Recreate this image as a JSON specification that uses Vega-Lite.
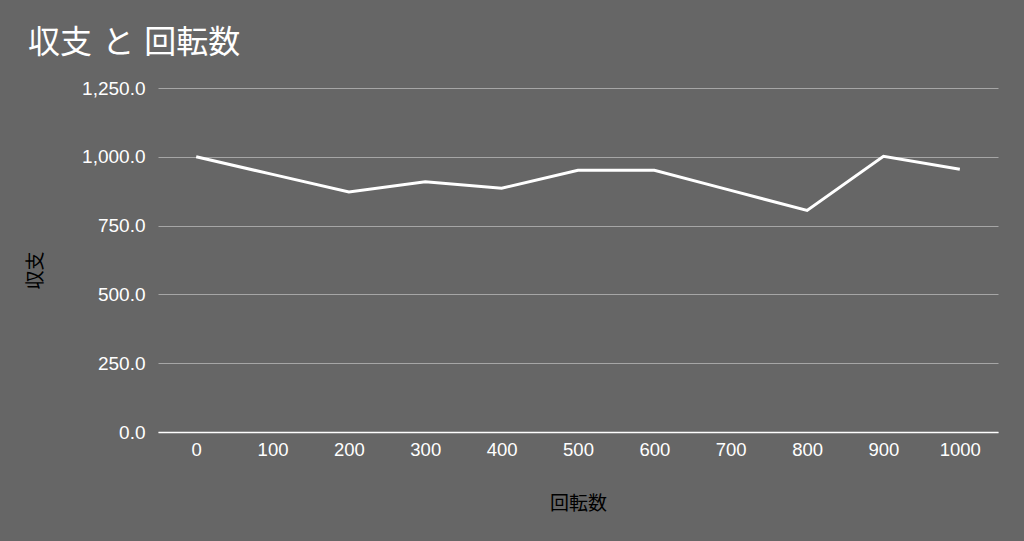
{
  "$schema": "https://vega.github.io/schema/vega-lite/v6.json",
  "autosize": "none",
  "width": 840,
  "height": 344,
  "padding": {"left": 158, "top": 88, "right": 26, "bottom": 109},
  "background": "#666666",
  "title": {
    "text": "収支 と 回転数",
    "anchor": "start",
    "frame": "group",
    "dx": -130,
    "offset": 19,
    "font": "DejaVu Sans, Noto Sans CJK JP",
    "fontSize": 32,
    "fontWeight": "normal",
    "color": "#ffffff"
  },
  "config": {
    "view": {"stroke": null},
    "font": "Liberation Sans"
  },
  "data": {
    "values": [
      {"回転数": 0, "収支": 1000},
      {"回転数": 100, "収支": 936},
      {"回転数": 200, "収支": 872},
      {"回転数": 300, "収支": 909},
      {"回転数": 400, "収支": 886},
      {"回転数": 500, "収支": 951},
      {"回転数": 600, "収支": 951},
      {"回転数": 700, "収支": 878},
      {"回転数": 800, "収支": 805},
      {"回転数": 900, "収支": 1002},
      {"回転数": 1000, "収支": 955}
    ]
  },
  "mark": {"type": "line", "color": "#ffffff", "strokeWidth": 3},
  "encoding": {
    "x": {
      "field": "回転数",
      "type": "ordinal",
      "scale": {"type": "point", "padding": 0.5},
      "axis": {
        "title": "回転数",
        "titleFont": "Noto Sans CJK JP",
        "titleFontSize": 19,
        "titleFontWeight": "normal",
        "titleColor": "#000000",
        "titlePadding": 36,
        "labelAngle": 0,
        "labelColor": "#ffffff",
        "labelFontSize": 18.5,
        "labelPadding": 8,
        "ticks": false,
        "domainColor": "#ffffff",
        "domainWidth": 1.5,
        "grid": false
      }
    },
    "y": {
      "field": "収支",
      "type": "quantitative",
      "scale": {"domain": [0, 1250]},
      "axis": {
        "title": "収支",
        "titleFont": "Noto Sans CJK JP",
        "titleFontSize": 19,
        "titleFontWeight": "normal",
        "titleColor": "#000000",
        "titleX": -123,
        "titleY": 182,
        "titleAlign": "center",
        "titleBaseline": "middle",
        "values": [0, 250, 500, 750, 1000, 1250],
        "format": ",.1f",
        "labelColor": "#ffffff",
        "labelFontSize": 19,
        "labelPadding": 13,
        "ticks": false,
        "domain": false,
        "gridColor": "#a6a6a6",
        "gridWidth": 1
      }
    }
  }
}
